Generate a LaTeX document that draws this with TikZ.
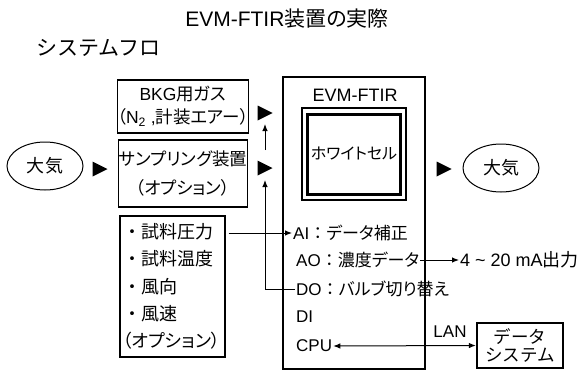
\documentclass[tikz,border=0pt]{standalone}
\usepackage{fontspec}
\setmainfont{Liberation Sans}
\newfontfamily\jp[RawFeature=+palt]{Noto Sans CJK JP}
\newfontfamily\jpf{Noto Sans CJK JP}
\newcommand{\jtxt}[1]{{\jp #1}}
\usetikzlibrary{arrows.meta,calc,shapes.geometric}
\begin{document}
\begin{tikzpicture}[x=1pt,y=-1pt,
  every node/.style={font=\fontsize{17}{20}\selectfont, inner sep=1pt},
  thinbox/.style={draw, line width=1.1pt, inner sep=0pt, align=center},
  thickbox/.style={draw, line width=2.3pt, inner sep=0pt, align=center},
  blob/.style={draw, ellipse, line width=1pt, minimum width=76pt, minimum height=48pt, inner sep=0pt, font=\fontsize{18}{20}\selectfont},
  conn/.style={line width=1pt, -{Latex[length=7pt,width=5.5pt]}},
  conn2/.style={line width=1pt, {Latex[length=7pt,width=5.5pt]}-{Latex[length=7pt,width=5.5pt]}},
  rowtext/.style={anchor=west}
]
\useasboundingbox (0,0) rectangle (583,372);
\newcommand{\flowtri}[1]{\fill (#1) +(-7.5,-7.5) -- +(7.5,0) -- +(-7.5,7.5) -- cycle;}

% headings
\node (title) at (287,19) {\fontsize{21}{24}\selectfont EVM-FTIR\jtxt{装置の実際}};
\node[anchor=west] (sys) at (35,48) {\fontsize{21}{24}\selectfont\jpf システムフロ};

% left boxes
\node[thinbox, minimum width=126pt, minimum height=53pt, font=\fontsize{17.5}{23}\selectfont] (bkg) at (183,106.5)
  {BKG\jtxt{用ガス}\\\jtxt{（}N\textsubscript{2} ,\jtxt{計装エアー）}};
\node[thinbox, minimum width=126pt, minimum height=67pt, font=\fontsize{17.5}{29}\selectfont] (samp) at (183,173.5)
  {\jtxt{サンプリング装置}\\\jtxt{（オプション）}};
\node[thinbox, align=left, text width=99pt, inner xsep=3pt, minimum height=141pt, font=\fontsize{18}{27.2}\selectfont] (sens) at (172.5,286.5)
  {{\jpf ・}\jtxt{試料圧力}\\{\jpf ・}\jtxt{試料温度}\\{\jpf ・}\jtxt{風向}\\{\jpf ・}\jtxt{風速}\\\jtxt{（オプション）}};

% atmosphere
\node[blob] (air1) at (45,166) {\jtxt{大気}};
\node[blob] (air2) at (501,168) {\jtxt{大気}};

% flow triangles
\coordinate (t0) at (100,169);
\coordinate (t1) at (265,113);
\coordinate (t2) at (265,168);
\coordinate (t3) at (444,169);
\flowtri{t0}
\flowtri{t1}
\flowtri{t2}
\flowtri{t3}

% EVM-FTIR unit
\node[thickbox, minimum width=142pt, minimum height=292pt] (evm) at (354,223) {};
\node (evml) at (355,95) {\fontsize{18}{20}\selectfont EVM-FTIR};
\node[draw, line width=2pt, minimum width=104pt, minimum height=92pt] (wcout) at (354,154) {};
\node[draw, line width=3pt, minimum width=93pt, minimum height=80pt, font=\fontsize{16}{18}\selectfont] (wc) at (354,154) {\jtxt{ホワイトセル}};

\node[rowtext] (ai) at (292,233) {AI{\jpf ：}\jtxt{データ補正}};
\node[rowtext] (ao) at (295,260) {AO{\jpf ：}\jtxt{濃度データ}};
\node[rowtext] (dout) at (295,289) {DO{\jpf ：}\jtxt{バルブ切り替え}};
\node[rowtext] (di) at (295,317) {DI};
\node[rowtext] (cpu) at (295,346) {CPU};

\node[rowtext, font=\fontsize{18}{20}\selectfont] (out) at (459,260) {4 \textasciitilde{} 20 mA\jtxt{出力}};
\node (lan) at (450,332) {LAN};
\node[thickbox, minimum width=86pt, minimum height=45pt, font=\fontsize{17.5}{18}\selectfont] (data) at (520,345.5)
  {{\jpf データ}\\{\jpf システム}};

% connectors
\draw[conn] ($(sens.east |- ai.west)+(3,0)$) -- (ai.west);
\draw[conn] (ao.east) -- (out.west);
\draw[conn] (dout.west) -| ($(t2)+(0,12)$);
\draw[conn] ($(t2)+(0,-18)$) -- ($(t1)+(0,11)$);
\draw[conn2] (cpu.east) -- (data.west);
\end{tikzpicture}
\end{document}
